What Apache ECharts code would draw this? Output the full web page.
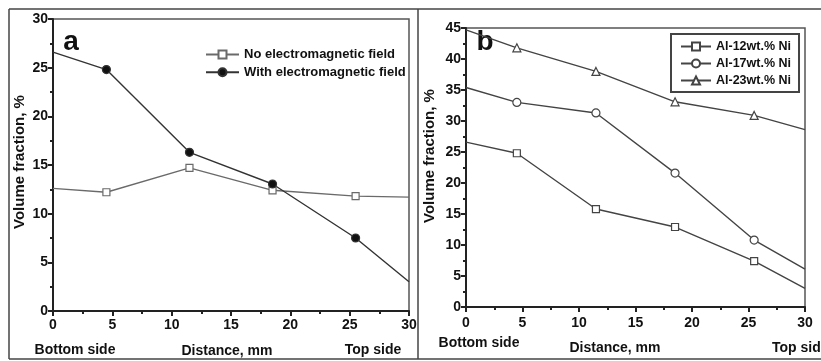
<!DOCTYPE html>
<html><head><meta charset="utf-8">
<script src="https://cdn.jsdelivr.net/npm/echarts@6/dist/echarts.min.js"></script>
<style>html,body{margin:0;padding:0;background:#fff}#c{width:821px;height:361px}</style>
</head><body><div id="c"></div>
<script>
const xs = [0, 4.5, 11.5, 18.5, 25.5, 30];
const markerShown = [false, true, true, true, true, false];
const noField = [12.6, 12.2, 14.7, 12.4, 11.8, 11.7];
const withField = [26.6, 24.8, 16.3, 13.05, 7.5, 3.0];
const ni12 = [26.6, 24.8, 15.8, 12.9, 7.4, 3.0];
const ni17 = [35.4, 33.0, 31.3, 21.6, 10.8, 6.1];
const ni23 = [44.7, 41.8, 38.0, 33.1, 30.9, 28.6];
const leftNames = ['No electromagnetic field', 'With electromagnetic field'];
const rightNames = ['Al-12wt.% Ni', 'Al-17wt.% Ni', 'Al-23wt.% Ni'];
const xTicks = [0, 5, 10, 15, 20, 25, 30];

const FONT = '"Liberation Sans", Arial, sans-serif';
function pts(vals) {
  return xs.map((x, i) => markerShown[i] ? [x, vals[i]] : {value: [x, vals[i]], symbol: 'none'});
}
function xAxis(gi) {
  return {
    type: 'value', gridIndex: gi, min: 0, max: 30, interval: 5,
    axisLine: {show: true, onZero: false, lineStyle: {color: '#222', width: 2}},
    axisTick: {show: true, length: 5, lineStyle: {color: '#222', width: 2}},
    minorTick: {show: true, splitNumber: 2, length: 3, lineStyle: {color: '#222', width: 2}},
    splitLine: {show: false},
    axisLabel: {color: '#111', fontFamily: FONT, fontWeight: 'bold', fontSize: 14, margin: gi === 0 ? 7 : 9,
      formatter: v => xTicks.includes(v) ? String(v) : ''}
  };
}
function yAxis(gi, max) {
  return {
    type: 'value', gridIndex: gi, min: 0, max: max, interval: 5,
    axisLine: {show: true, onZero: false, lineStyle: {color: '#222', width: 2}},
    axisTick: {show: true, length: 5, lineStyle: {color: '#222', width: 2}},
    minorTick: {show: true, splitNumber: 2, length: 3, lineStyle: {color: '#222', width: 2}},
    splitLine: {show: false},
    axisLabel: {color: '#111', fontFamily: FONT, fontWeight: 'bold', fontSize: 14, margin: 5}
  };
}
function ser(name, vals, gi, symbol, fill, color) {
  return {
    name: name, type: 'line', xAxisIndex: gi, yAxisIndex: gi, data: pts(vals),
    symbol: symbol, symbolSize: symbol === 'rect' ? 7 : 8, showAllSymbol: true,
    lineStyle: {color: color, width: 1.4},
    itemStyle: {color: fill, borderColor: color, borderWidth: 1.2},
    emphasis: {disabled: true}, animation: false
  };
}
function txt(x, y, s, size, extra, rot) {
  return {type: 'text', x: x, y: y, rotation: rot || 0, silent: true,
    style: Object.assign({text: s, fill: '#111', font: 'bold ' + size + 'px ' + FONT, textAlign: 'center', textVerticalAlign: 'middle'}, extra || {})};
}
function line(x1, y1, x2, y2) {
  return {type: 'line', silent: true, shape: {x1, y1, x2, y2}, style: {stroke: '#444', lineWidth: 1.5}};
}

const chart = echarts.init(document.getElementById('c'), null, {renderer: 'canvas'});
chart.setOption({
  animation: false,
  backgroundColor: '#fff',
  grid: [
    {left: 53, top: 19, width: 356, height: 292, show: true, borderColor: '#555', borderWidth: 1.5, backgroundColor: 'transparent'},
    {left: 466, top: 28, width: 339, height: 279, show: true, borderColor: '#555', borderWidth: 1.5, backgroundColor: 'transparent'}
  ],
  xAxis: [xAxis(0), xAxis(1)],
  yAxis: [yAxis(0, 30), yAxis(1, 45)],
  legend: [
    {data: leftNames, orient: 'vertical', left: 200, top: 43, itemWidth: 33, itemHeight: 10, itemGap: 4.7,
     textStyle: {color: '#111', fontFamily: FONT, fontWeight: 'bold', fontSize: 13, lineHeight: 13}, selectedMode: false},
    {data: rightNames, orient: 'vertical', left: 671, top: 34, itemWidth: 30, itemHeight: 10, itemGap: 4,
     padding: [6, 8, 5, 9], borderColor: '#444', borderWidth: 2,
     textStyle: {color: '#111', fontFamily: FONT, fontWeight: 'bold', fontSize: 12.5, lineHeight: 13}, selectedMode: false}
  ],
  series: [
    ser(leftNames[0], noField, 0, 'rect', '#fff', '#6a6a6a'),
    ser(leftNames[1], withField, 0, 'circle', '#111', '#333'),
    ser(rightNames[0], ni12, 1, 'rect', '#fff', '#444'),
    ser(rightNames[1], ni17, 1, 'circle', '#fff', '#444'),
    ser(rightNames[2], ni23, 1, 'triangle', '#fff', '#444')
  ],
  graphic: [
    line(9, 9, 821, 9), line(9, 9, 9, 359), line(9, 359, 821, 359), line(418, 9, 418, 359),
    txt(71, 42, 'a', 28),
    txt(485, 42, 'b', 28),
    txt(20, 162, 'Volume fraction, %', 15, {}, Math.PI / 2),
    txt(430, 156, 'Volume fraction, %', 15, {}, Math.PI / 2),
    txt(75, 350, 'Bottom side', 14),
    txt(227, 351, 'Distance, mm', 14),
    txt(373, 350, 'Top side', 14),
    txt(479, 343, 'Bottom side', 14),
    txt(615, 348, 'Distance, mm', 14),
    txt(772, 348, 'Top side', 14, {textAlign: 'left'})
  ]
});
</script></body></html>
